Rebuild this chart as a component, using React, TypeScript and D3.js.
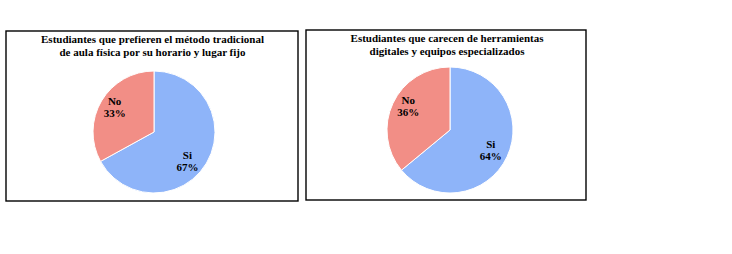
import React from "react";
import * as d3 from "d3";

const chartTitles = [
  ["Estudiantes que prefieren el método tradicional", "de aula física por su horario y lugar fijo"],
  ["Estudiantes que carecen de herramientas", "digitales y equipos especializados"],
];
const categories = ["Si", "No"];
const seriesA = [67, 33];
const seriesB = [64, 36];
const colors = ["#8EB4F9", "#F28E86"];

const panels = [
  { x: 6, y: 31, w: 292, h: 170, cx: 154, cy: 132, r: 61, titleX: 152.5, values: seriesA, title: chartTitles[0], nudge: [[-6, 6], [0, -2]] },
  { x: 306, y: 30, w: 280, h: 170, cx: 450, cy: 130, r: 63, titleX: 447, values: seriesB, title: chartTitles[1], nudge: [[-2, 0], [1, -4]] },
];

function Pie({ p }: { p: any }) {
  const data = categories.map((c, i) => ({ cat: c, value: p.values[i] }));
  const pie = d3.pie<any>().value((d) => d.value).sort(null);
  const arcs = pie(data);
  const arc = d3.arc<any>().innerRadius(0).outerRadius(p.r);
  const labelArc = d3.arc<any>().innerRadius(p.r * 1.5).outerRadius(0);
  return (
    <g>
      <rect x={p.x} y={p.y} width={p.w} height={p.h} fill="#fff" stroke="#000" strokeWidth={1.4} />
      <text x={p.titleX} y={p.y + 12} textAnchor="middle" fontFamily="Liberation Serif" fontWeight="bold" fontSize={11}>
        <tspan x={p.titleX}>{p.title[0]}</tspan>
        <tspan x={p.titleX} dy={13}>{p.title[1]}</tspan>
      </text>
      <g transform={`translate(${p.cx},${p.cy})`}>
        {arcs.map((a, i) => (
          <path key={i} d={arc(a) as string} fill={colors[i]} stroke="#fff" strokeWidth={1} />
        ))}
        {arcs.map((a, i) => {
          const [cx, cy] = labelArc.centroid(a);
          const lx = cx + p.nudge[i][0];
          const ly = cy + p.nudge[i][1];
          return (
            <text key={"l" + i} textAnchor="middle" fontFamily="Liberation Serif" fontWeight="bold" fontSize={11}>
              <tspan x={lx} y={ly - 2}>{a.data.cat}</tspan>
              <tspan x={lx} y={ly + 10}>{a.data.value}%</tspan>
            </text>
          );
        })}
      </g>
    </g>
  );
}

export default function App() {
  return (
    <svg width={732} height={254} style={{ position: "absolute", left: 0, top: 0 }}>
      <rect width={732} height={254} fill="#fff" />
      {panels.map((p, i) => (
        <Pie key={i} p={p} />
      ))}
    </svg>
  );
}
